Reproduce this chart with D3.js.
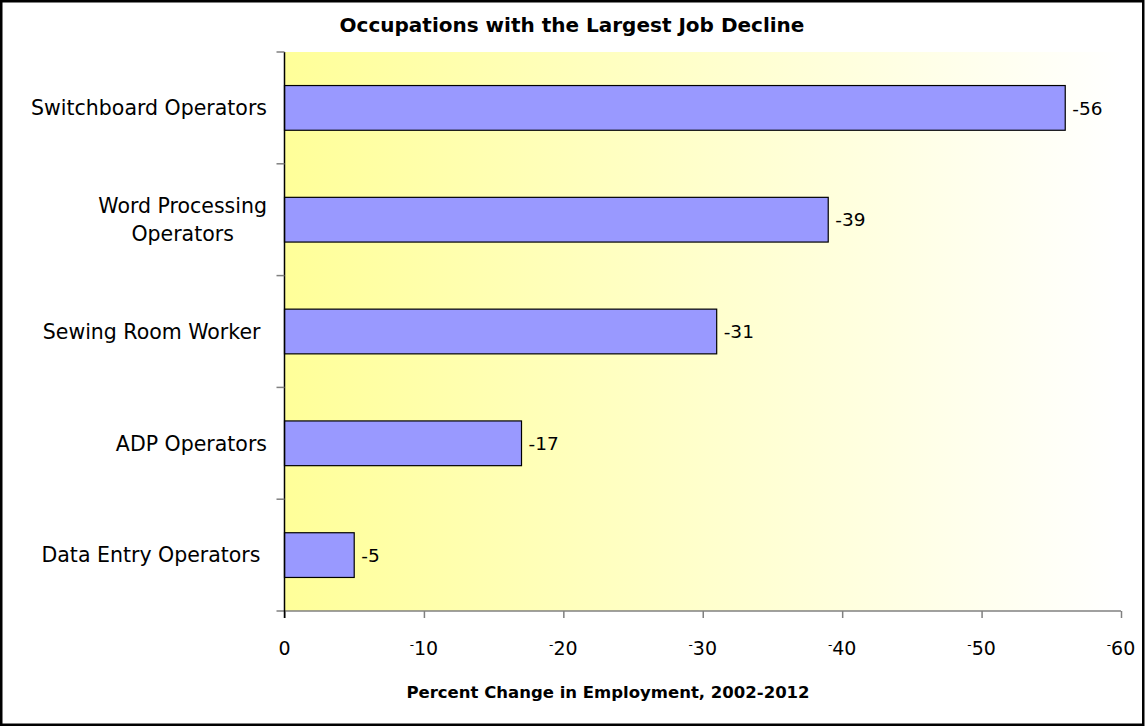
<!DOCTYPE html>
<html>
<head>
<meta charset="utf-8">
<script src="https://cdn.jsdelivr.net/npm/d3@7"></script>
<style>
  html, body { margin: 0; padding: 0; background: #fff; }
  svg { display: block; }
  text { font-family: "DejaVu Sans", sans-serif; fill: #000; }
</style>
</head>
<body>
<svg id="chart" width="1145" height="728"></svg>
<script>
// Occupations, top to bottom, with their percent change in employment
const categories = [
  ["Switchboard Operators"],
  ["Word Processing", "Operators"],
  ["Sewing Room Worker "],
  ["ADP Operators"],
  ["Data Entry Operators "]
];
const changes = [-56, -39, -31, -17, -5];
const xTicks = [0, -10, -20, -30, -40, -50, -60];
const chartTitle = "Occupations with the Largest Job Decline";
const axisTitle = "Percent Change in Employment, 2002-2012";

const svg = d3.select("#chart");
const W = 1145, H = 728;
const plot = { left: 284.5, right: 1121, top: 52, bottom: 611 };

// Outer frame
svg.append("rect")
  .attr("x", 1.25).attr("y", 1.25)
  .attr("width", W - 3).attr("height", H - 4.5)
  .attr("fill", "#fff").attr("stroke", "#000").attr("stroke-width", 2.5);

// Plot background: yellow fading to white
const defs = svg.append("defs");
const grad = defs.append("linearGradient").attr("id", "bg")
  .attr("x1", "0%").attr("x2", "100%").attr("y1", "0%").attr("y2", "0%");
grad.append("stop").attr("offset", "0%").attr("stop-color", "#ffff99");
grad.append("stop").attr("offset", "100%").attr("stop-color", "#ffffff");

svg.append("rect")
  .attr("x", plot.left).attr("y", plot.top)
  .attr("width", plot.right - plot.left).attr("height", plot.bottom - plot.top)
  .attr("fill", "url(#bg)");

// Magnitude of the decline runs left to right
const x = d3.scaleLinear().domain([0, -60]).range([plot.left, plot.right]);
const y = d3.scaleBand()
  .domain(d3.range(categories.length))
  .range([plot.top, plot.bottom])
  .paddingInner(0.6).paddingOuter(0.3);

// Bars
svg.append("g").selectAll("rect")
  .data(changes)
  .join("rect")
  .attr("x", x(0))
  .attr("y", (d, i) => y(i))
  .attr("width", d => x(d) - x(0))
  .attr("height", y.bandwidth())
  .attr("fill", "#9999ff")
  .attr("stroke", "#000")
  .attr("stroke-width", 1.2);

// Value labels
svg.append("g").selectAll("text")
  .data(changes)
  .join("text")
  .attr("x", d => x(d) + 7)
  .attr("y", (d, i) => y(i) + y.bandwidth() / 2)
  .attr("dy", "0.36em")
  .attr("font-size", 18.5)
  .text(d => d3.format("d")(d).replace("\u2212", "-"));

// X axis: grey baseline with downward ticks
const xAxis = d3.axisBottom(x).tickValues(xTicks).tickSizeInner(7).tickSizeOuter(0).tickFormat("");
const gx = svg.append("g").attr("transform", `translate(0,${plot.bottom})`).call(xAxis);
gx.select(".domain").attr("stroke", "#808080").attr("stroke-width", 1.5)
  .attr("d", `M${plot.left - 8},0H${plot.right}`);
gx.selectAll(".tick line").attr("stroke", "#808080").attr("stroke-width", 1.5);

// Tick labels with a small raised minus sign
const tickText = svg.append("g").selectAll("text")
  .data(xTicks)
  .join("text")
  .attr("x", d => x(d))
  .attr("y", 655)
  .attr("text-anchor", "middle")
  .attr("font-size", 19);
tickText.each(function (d) {
  const t = d3.select(this);
  if (d < 0) {
    t.append("tspan").attr("font-size", 12).attr("dy", -6).text("-");
    t.append("tspan").attr("dy", 6).text(Math.abs(d));
  } else {
    t.text(d);
  }
});

// Y axis: black line, grey ticks at category boundaries
svg.append("line")
  .attr("x1", plot.left).attr("x2", plot.left)
  .attr("y1", plot.top).attr("y2", plot.bottom + 7)
  .attr("stroke", "#000").attr("stroke-width", 1.5);
const boundaries = d3.range(categories.length).map(i => y(i) - y.step() * y.paddingInner() / 2);
svg.append("g").selectAll("line")
  .data(boundaries)
  .join("line")
  .attr("x1", plot.left - 8).attr("x2", plot.left)
  .attr("y1", d => d).attr("y2", d => d)
  .attr("stroke", "#808080").attr("stroke-width", 1.5);

// Category labels, right-aligned block with lines centred on each other
const labelRight = 267;
const catG = svg.append("g");
categories.forEach((lines, i) => {
  const cy = y(i) + y.bandwidth() / 2;
  const lh = 28;
  const texts = lines.map((ln, k) => catG.append("text")
    .attr("font-size", 20.5)
    .attr("xml:space", "preserve")
    .style("white-space", "pre")
    .attr("y", cy + (k - (lines.length - 1) / 2) * lh)
    .attr("dy", "0.36em")
    .attr("text-anchor", "middle")
    .text(ln));
  const widths = texts.map(t => t.node().getComputedTextLength());
  const maxW = d3.max(widths);
  texts.forEach(t => t.attr("x", labelRight - maxW / 2));
});

// Titles
svg.append("text")
  .attr("x", 572).attr("y", 32)
  .attr("text-anchor", "middle")
  .attr("font-size", 20).attr("font-weight", "bold")
  .text(chartTitle);

svg.append("text")
  .attr("x", 608).attr("y", 698)
  .attr("text-anchor", "middle")
  .attr("font-size", 16.5).attr("font-weight", "bold")
  .text(axisTitle);
</script>
</body>
</html>
